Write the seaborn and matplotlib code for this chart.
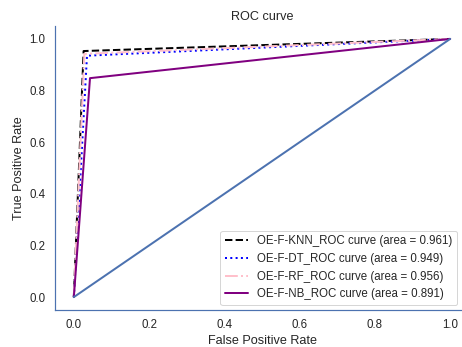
import numpy as np
import matplotlib
matplotlib.use("Agg")
import matplotlib.pyplot as plt
import seaborn as sns

# ROC points
knn_fpr = [0.0, 0.026, 1.0]
knn_tpr = [0.0, 0.953, 1.0]
dt_fpr = [0.0, 0.035, 1.0]
dt_tpr = [0.0, 0.935, 1.0]
rf_fpr = [0.0, 0.028, 1.0]
rf_tpr = [0.0, 0.942, 1.0]
nb_fpr = [0.0, 0.043, 1.0]
nb_tpr = [0.0, 0.848, 1.0]
diag = [0.0, 1.0]

names = ["OE-F-KNN_ROC curve", "OE-F-DT_ROC curve", "OE-F-RF_ROC curve", "OE-F-NB_ROC curve"]
areas = [0.961, 0.949, 0.956, 0.891]

sns.set_theme(style="white")
plt.rcParams['font.family'] = ['Liberation Sans', 'DejaVu Sans']
plt.rcParams['text.color'] = '.15'

W, H = 462, 347
fig = plt.figure(figsize=(W / 72, H / 72), dpi=72)
ax = fig.add_axes([55 / W, 1 - 310 / H, (469 - 55) / W, (310 - 26) / H])

sns.lineplot(x=knn_fpr, y=knn_tpr, ax=ax, color='black', linestyle='--', linewidth=2,
             label='%s (area = %0.3f)' % (names[0], areas[0]), estimator=None, sort=False)
sns.lineplot(x=dt_fpr, y=dt_tpr, ax=ax, color='blue', linestyle=':', linewidth=2,
             label='%s (area = %0.3f)' % (names[1], areas[1]), estimator=None, sort=False)
sns.lineplot(x=rf_fpr, y=rf_tpr, ax=ax, color='pink', linestyle='-.', linewidth=2,
             label='%s (area = %0.3f)' % (names[2], areas[2]), estimator=None, sort=False)
sns.lineplot(x=nb_fpr, y=nb_tpr, ax=ax, color='purple', linestyle='-', linewidth=2,
             label='%s (area = %0.3f)' % (names[3], areas[3]), estimator=None, sort=False)
ax.plot(diag, diag, color='#4c72b0', linewidth=2)

ax.set_xlim(-0.05, 1.05)
ax.set_ylim(-0.05, 1.05)
sns.despine(ax=ax)
for s in ['left', 'bottom']:
    ax.spines[s].set_color('#4c72b0')
    ax.spines[s].set_linewidth(1.2)
ax.tick_params(labelsize=11.5, colors='.15')

ax.set_xlabel('False Positive Rate', fontsize=12.6, color='.15')
ax.set_ylabel('True Positive Rate', fontsize=12.6, color='.15')
ax.set_title('ROC curve', fontsize=12.6, color='.15')
ax.legend(loc='lower right', fontsize=11.5, bbox_to_anchor=(457 / W, 1 - 305 / H),
          bbox_transform=fig.transFigure, borderaxespad=0)

plt.savefig('out.png', dpi=72)
